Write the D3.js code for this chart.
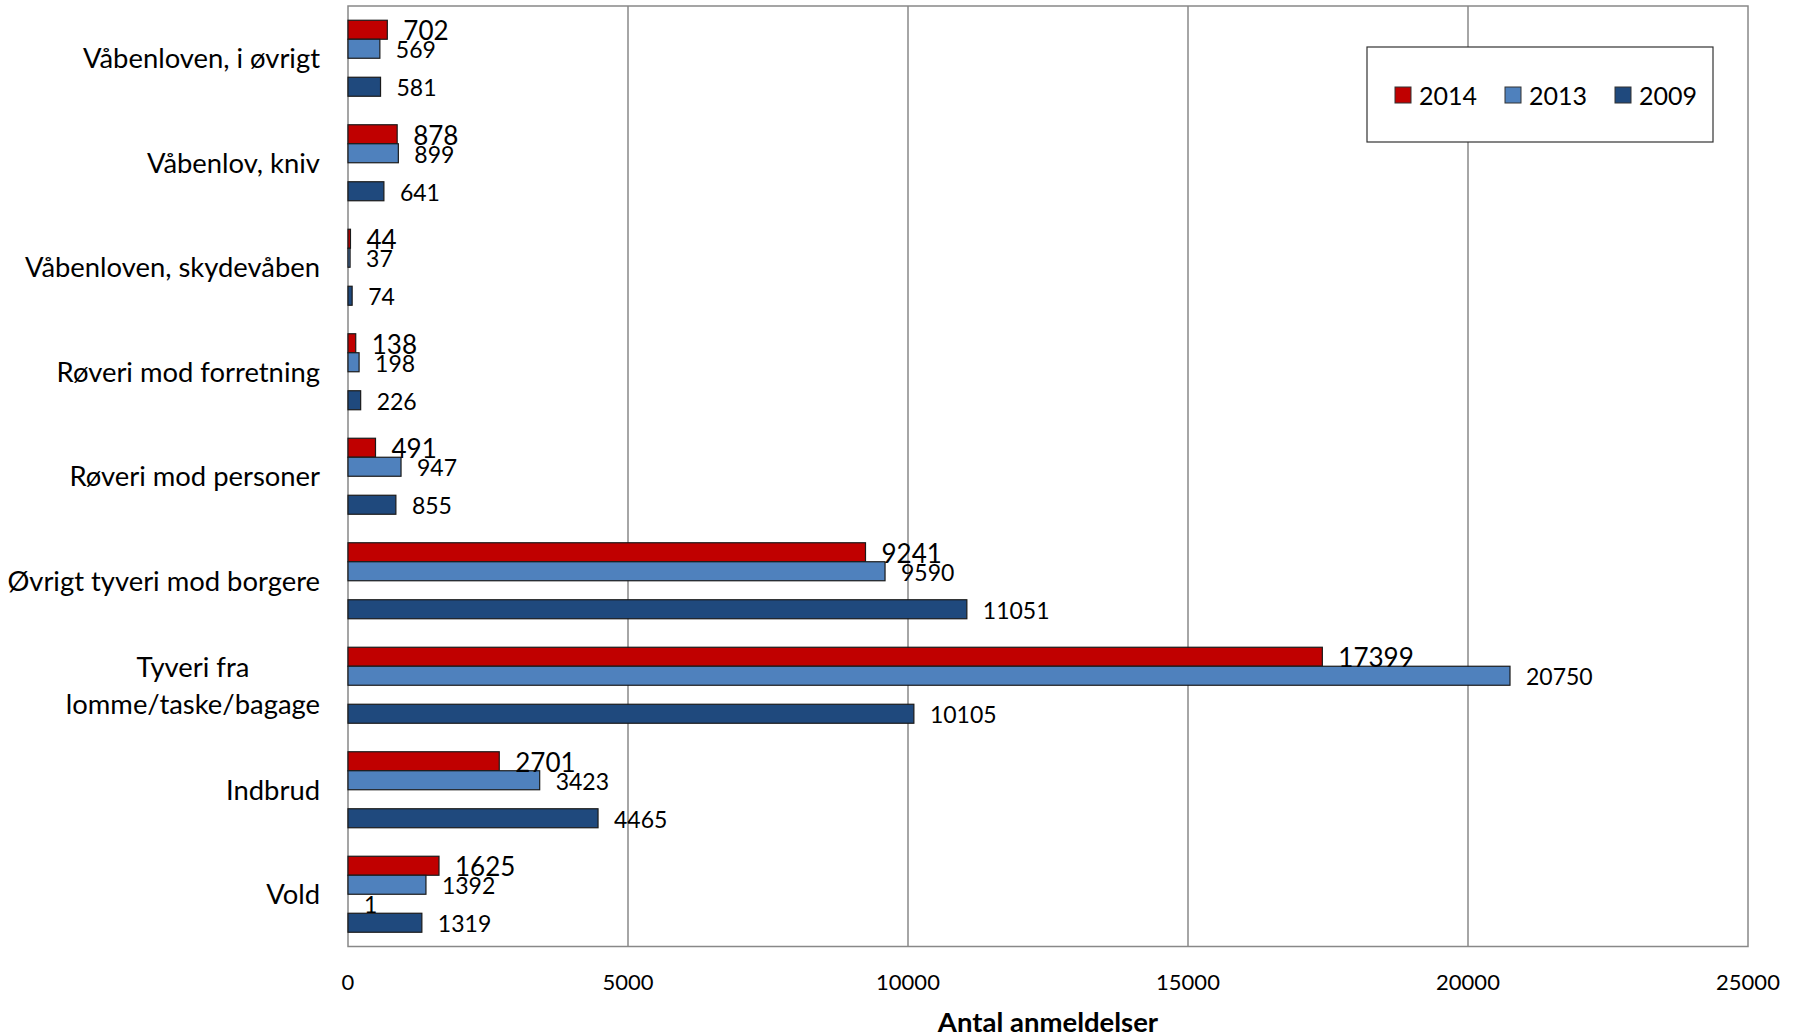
<!DOCTYPE html>
<html>
<head>
<meta charset="utf-8">
<script src="https://cdn.jsdelivr.net/npm/d3@7"></script>
<style>
  body { margin: 0; background: #fff; }
  text { font-family: Lato, "Open Sans", "DejaVu Sans", sans-serif; fill: #000; }
</style>
</head>
<body>
<svg id="chart"></svg>
<script>
// chart data
const categories = [
  "Våbenloven, i øvrigt",
  "Våbenlov, kniv",
  "Våbenloven, skydevåben",
  "Røveri mod forretning",
  "Røveri mod personer",
  "Øvrigt tyveri mod borgere",
  "Tyveri fra\nlomme/taske/bagage",
  "Indbrud",
  "Vold"
];
const values2014 = [702, 878, 44, 138, 491, 9241, 17399, 2701, 1625];
const values2013 = [569, 899, 37, 198, 947, 9590, 20750, 3423, 1392];
const valuesExtra = [null, null, null, null, null, null, null, null, 1];
const values2009 = [581, 641, 74, 226, 855, 11051, 10105, 4465, 1319];
const xTicks = [0, 5000, 10000, 15000, 20000, 25000];
const legendNames = ["2014", "2013", "2009"];

const series = [
  { key: "2014", values: values2014, color: "#c00000", labelSize: 26 },
  { key: "2013", values: values2013, color: "#4f81bd", labelSize: 23 },
  { key: "extra", values: valuesExtra, color: "none", labelSize: 23 },
  { key: "2009", values: values2009, color: "#1f497d", labelSize: 23 }
];

const width = 1799;
const height = 1036;
const plot = { left: 348, right: 1748, top: 6, bottom: 946.5 };

const svg = d3.select("#chart")
  .attr("width", width)
  .attr("height", height);

const x = d3.scaleLinear().domain([0, 25000]).range([plot.left, plot.right]);

// excel style gap width 150% -> split between groups
const y0 = d3.scaleBand()
  .domain(categories)
  .range([plot.top, plot.bottom])
  .paddingInner(0.2727)
  .paddingOuter(0.13635);

const y1 = d3.scaleBand()
  .domain(series.map((s) => s.key))
  .range([0, y0.bandwidth()]);

// gridlines
svg.append("g")
  .selectAll("line")
  .data(xTicks.slice(1, -1))
  .enter()
  .append("line")
  .attr("x1", (d) => x(d))
  .attr("x2", (d) => x(d))
  .attr("y1", plot.top)
  .attr("y2", plot.bottom)
  .style("stroke", "#888")
  .style("stroke-width", 1.5);

// plot border
svg.append("rect")
  .attr("x", plot.left)
  .attr("y", plot.top)
  .attr("width", plot.right - plot.left)
  .attr("height", plot.bottom - plot.top)
  .style("fill", "none")
  .style("stroke", "#888")
  .style("stroke-width", 1.5);

// bars
const groups = svg.append("g")
  .selectAll("g")
  .data(categories)
  .enter()
  .append("g")
  .attr("transform", (d) => `translate(0, ${y0(d)})`);

groups.each(function (cat, i) {
  const g = d3.select(this);
  const rows = series
    .filter((s) => s.values[i] !== null)
    .map((s) => ({ s: s, v: s.values[i] }));

  g.selectAll("rect")
    .data(rows.filter((r) => r.s.color !== "none"))
    .enter()
    .append("rect")
    .attr("x", x(0))
    .attr("y", (d) => y1(d.s.key))
    .attr("width", (d) => x(d.v) - x(0))
    .attr("height", y1.bandwidth())
    .style("fill", (d) => d.s.color)
    .style("stroke", "#1a1a1a")
    .style("stroke-width", 1.2);

  g.selectAll("text")
    .data(rows)
    .enter()
    .append("text")
    .attr("x", (d) => x(d.v) + 16)
    .attr("y", (d) => y1(d.s.key) + y1.bandwidth() / 2 + 1)
    .attr("dy", "0.36em")
    .style("font-size", (d) => d.s.labelSize + "px")
    .text((d) => d.v);
});

// category labels
const labelRight = 320;
categories.forEach((cat) => {
  const lines = cat.split("\n");
  const lineH = 37;
  const cy = y0(cat) + y0.bandwidth() / 2;
  const t = svg.append("g");
  const texts = lines.map((ln, k) =>
    t.append("text")
      .attr("y", cy + (k - (lines.length - 1) / 2) * lineH)
      .attr("dy", "0.36em")
      .style("font-size", "27.4px")
      .text(ln)
  );
  const maxW = d3.max(texts, (tx) => tx.node().getComputedTextLength());
  texts.forEach((tx) => {
    tx.attr("x", labelRight - maxW / 2).attr("text-anchor", "middle");
  });
});

// x tick labels
svg.append("g")
  .selectAll("text")
  .data(xTicks)
  .enter()
  .append("text")
  .attr("x", (d) => x(d))
  .attr("y", 982)
  .attr("dy", "0.36em")
  .attr("text-anchor", "middle")
  .style("font-size", "22px")
  .text((d) => d);

// axis title
svg.append("text")
  .attr("x", (plot.left + plot.right) / 2)
  .attr("y", 1022)
  .attr("dy", "0.36em")
  .attr("text-anchor", "middle")
  .style("font-size", "27.5px")
  .style("font-weight", "bold")
  .text("Antal anmeldelser");

// legend
const legend = svg.append("g").attr("transform", "translate(1367, 47)");
legend.append("rect")
  .attr("width", 346)
  .attr("height", 95)
  .style("fill", "#fff")
  .style("stroke", "#333")
  .style("stroke-width", 1.2);

const legendItems = legend.selectAll("g")
  .data(legendNames)
  .enter()
  .append("g")
  .attr("transform", (d, i) => `translate(${28 + i * 110}, 40)`);

legendItems.append("rect")
  .attr("width", 16)
  .attr("height", 16)
  .style("fill", (d) => series.find((s) => s.key === d).color)
  .style("stroke", "#333")
  .style("stroke-width", 1);

legendItems.append("text")
  .attr("x", 24)
  .attr("y", 9)
  .attr("dy", "0.36em")
  .style("font-size", "25px")
  .text((d) => d);
</script>
</body>
</html>
